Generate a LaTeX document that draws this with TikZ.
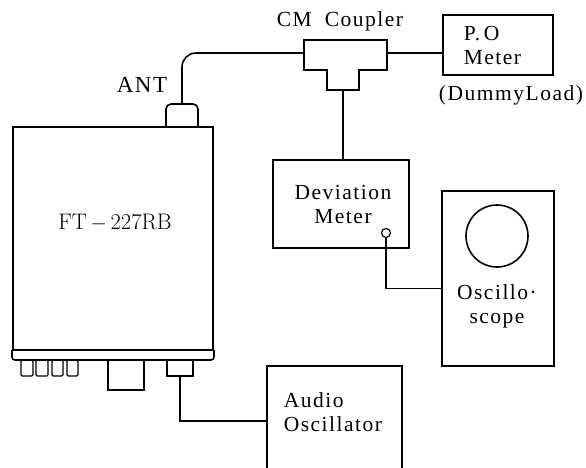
\documentclass[tikz,border=0pt]{standalone}
\usepackage{fontspec}
\setmainfont{Liberation Serif}[LetterSpace=7]
\newfontfamily\lmfont{Latin Modern Roman}
\newcommand{\labfont}{\fontsize{21.5pt}{24pt}\selectfont}
\newcommand{\antfont}{\fontsize{23pt}{26pt}\selectfont}
\newcommand{\rigfont}{\lmfont\fontsize{22.5pt}{26pt}\selectfont}
\begin{document}
\begin{tikzpicture}[x=1pt,y=-1pt,line width=1.6pt,
  box/.style={draw,inner sep=0pt,outer sep=0pt,anchor=north west},
  ghost/.style={inner sep=0pt,outer sep=0pt,anchor=north west},
  knob/.style={draw,inner sep=0pt,outer sep=0pt,anchor=north west,line width=1.2pt,rounded corners=1.2pt},
  lab/.style={inner sep=0pt,font=\labfont}]
\useasboundingbox (0,0) rectangle (586,467);
\clip (0,0) rectangle (586,467);
% transceiver
\node[box,minimum width=200pt,minimum height=223pt] (rig) at (13,127) {};
\node[ghost,minimum width=202pt,minimum height=10pt] (base) at (12,350) {};
\draw[rounded corners=3pt] (base.north west) -- (base.south west) -- (base.south east) -- (base.north east);
\node[knob,minimum width=12pt,minimum height=16pt] (k1) at (21,360) {};
\node[knob,minimum width=12pt,minimum height=16pt] (k2) at (36,360) {};
\node[knob,minimum width=11pt,minimum height=16pt] (k3) at (52,360) {};
\node[knob,minimum width=11pt,minimum height=16pt] (k4) at (67,360) {};
\node[box,line width=1.2pt,minimum width=36pt,minimum height=30pt] (sq) at (108,360) {};
\node[box,line width=1.2pt,minimum width=26pt,minimum height=16pt] (afin) at (167,360) {};
\node[ghost,minimum width=32pt,minimum height=23pt] (antc) at (166,104) {};
\draw[rounded corners=5pt] (antc.south west) -- (antc.north west) -- (antc.north east) -- (antc.south east);
\node[font=\rigfont,inner sep=0pt] (rigl) at (115,223) {FT\,$-$\,227RB};
\node[font=\antfont,inner sep=0pt] (antl) at (142,85) {ANT};
% coupler
\node[ghost,minimum width=83pt,minimum height=30pt] (coup) at (304,40) {};
\node[ghost,minimum width=32pt,minimum height=20pt] (stem) at (327,70) {};
\draw (coup.north west) -- (coup.north east) -- (coup.south east) -- (stem.north east)
  -- (stem.south east) -- (stem.south west) -- (stem.north west) -- (coup.south west) -- cycle;
\node[lab] (coupl) at (340,21) {CM\hspace{13pt}Coupler};
% P.O meter
\node[box,minimum width=110pt,minimum height=60pt] (po) at (443,15) {};
\node[lab,anchor=west,align=left] (pol) at (463,45) {P.\,O\\Meter};
\node[lab] (dummy) at (511,95) {(DummyLoad)};
% deviation meter
\node[box,minimum width=136pt,minimum height=88pt] (dev) at (273,160) {};
\node[lab,align=center] (devl) at (343,204) {Deviation\\Meter};
\node[circle,draw,inner sep=0pt,minimum size=9pt,line width=1.2pt] (jack) at (386,233) {};
% oscilloscope
\node[box,minimum width=112pt,minimum height=175pt] (scope) at (442,191) {};
\node[circle,draw,inner sep=0pt,minimum size=62pt] (crt) at (497,236) {};
\node[lab,align=center] (scl) at (497,306) {Oscillo·\\scope};
% audio oscillator
\node[box,minimum width=135pt,minimum height=112pt] (aud) at (267,366) {};
\node[lab,anchor=west,align=left] (audl) at (283,412) {Audio\\Oscillator};
% cables
\coordinate (cl) at ([yshift=2pt]coup.west);
\coordinate (cr) at ([yshift=2pt]coup.east);
\draw[rounded corners=14pt] (antc.north) |- (cl);
\draw (cr) -- (cr -| po.west);
\draw (stem.south) -- (stem.south |- dev.north);
\coordinate (sw) at ([yshift=-10pt]scope.west);
\draw (jack.south) |- (sw);
\coordinate (aw) at ([yshift=1pt]aud.west);
\draw (afin.south) |- (aw);
\end{tikzpicture}
\end{document}
